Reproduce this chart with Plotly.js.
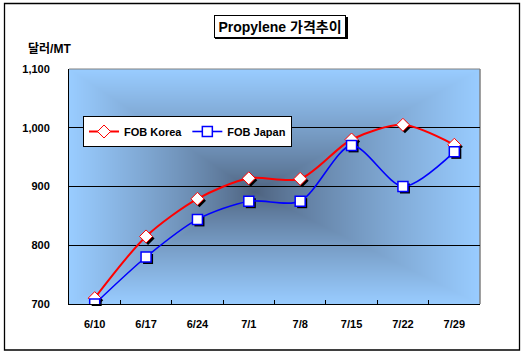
<!DOCTYPE html>
<html>
<head>
<meta charset="utf-8">
<script src="https://cdn.plot.ly/plotly-3.0.1.min.js"></script>
<style>
html,body{margin:0;padding:0;background:#fff;}
#chart{width:528px;height:354px;}
</style>
</head>
<body>
<div id="chart"></div>
<script>
// ---- data ----
var categories = ["6/10","6/17","6/24","7/1","7/8","7/15","7/22","7/29"];
var korea = [710, 815, 879, 914, 913, 980, 1005, 971];
var japan = [700, 780, 844, 875, 875, 970, 900, 959];
var yTickVals = [700, 800, 900, 1000, 1100];
var yTickText = ["700", "800", "900", "1,000", "1,100"];
var seriesNames = ["FOB Korea", "FOB Japan"];
var chartTitle = "Propylene 가격추이";
var yUnit = "달러/MT";

// ---- geometry helpers (pixels -> paper) ----
var L = 69, R = 46, T = 69, B = 48;
var W = 528 - L - R, H = 354 - T - B; // 413 x 237
function px(x){ return (x - L) / W; }
function py(y){ return (354 - B - y) / H; }
var dx = 2 / W, dy = 2 / H;

// ---- background gradient (rectangular, from center) ----
function gradientURL(){
  var cw = 411, ch = 235;
  var c = document.createElement('canvas');
  c.width = cw; c.height = ch;
  var ctx = c.getContext('2d');
  var img = ctx.createImageData(cw, ch);
  var edge = [153, 204, 255], mid = [76, 96, 124];
  var cx = cw * 0.45, cy = ch * 0.52;
  for (var j = 0; j < ch; j++) {
    for (var i = 0; i < cw; i++) {
      var tx = Math.abs(i - cx) / (i < cx ? cx : cw - cx);
      var ty = Math.abs(j - cy) / (j < cy ? cy : ch - cy);
      var t = Math.min(1, Math.max(tx, ty));
      t = Math.pow(t, 0.8);
      var k = (j * cw + i) * 4;
      for (var q = 0; q < 3; q++) img.data[k + q] = Math.round(mid[q] + (edge[q] - mid[q]) * t);
      img.data[k + 3] = 255;
    }
  }
  ctx.putImageData(img, 0, 0);
  return c.toDataURL('image/png');
}

var fam = "Liberation Sans, Arial, Noto Sans CJK KR, sans-serif";
var bold = {family: fam, size: 11, color: "#000", weight: "bold"};

var traces = [
  // shadows (subplot xy, shifted)
  {x: categories, y: korea, type: "scatter", mode: "markers", xaxis: "x", yaxis: "y", showlegend: false, hoverinfo: "skip",
   marker: {symbol: "diamond", size: 10, color: "#000", line: {width: 0}}},
  {x: categories, y: japan, type: "scatter", mode: "markers", xaxis: "x", yaxis: "y", showlegend: false, hoverinfo: "skip",
   marker: {symbol: "square", size: 10, color: "#000", line: {width: 0}}},
  // main series
  {x: categories, y: korea, name: seriesNames[0], type: "scatter", mode: "lines+markers", xaxis: "x2", yaxis: "y2",
   line: {color: "#FF0000", width: 2, shape: "spline", smoothing: 0.8},
   marker: {symbol: "diamond", size: 10, color: "#FFFFFF", line: {color: "#FF0000", width: 1}}},
  {x: categories, y: japan, name: seriesNames[1], type: "scatter", mode: "lines+markers", xaxis: "x2", yaxis: "y2",
   line: {color: "#0000FF", width: 1.6, shape: "spline", smoothing: 0.8},
   marker: {symbol: "square", size: 10, color: "#FFFFFF", line: {color: "#0000FF", width: 1.5}}}
];

var hiddenAxis = {showgrid: false, showline: false, zeroline: false, showticklabels: false, ticks: ""};

var layout = {
  width: 528, height: 354,
  margin: {l: L, r: R, t: T, b: B, pad: 0},
  paper_bgcolor: "#FFFFFF",
  plot_bgcolor: "rgba(0,0,0,0)",
  showlegend: true,
  xaxis: Object.assign({type: "category", categoryorder: "array", categoryarray: categories, range: [-0.5, 7.5],
                        domain: [dx, 1], anchor: "y"}, hiddenAxis),
  yaxis: Object.assign({range: [700, 1100], domain: [0, 1 - dy], anchor: "x"}, hiddenAxis),
  xaxis2: {type: "category", categoryorder: "array", categoryarray: categories, range: [-0.5, 7.5],
           domain: [0, 1 - dx], anchor: "y2",
           showgrid: false, zeroline: false, showline: true, linecolor: "#000", linewidth: 1,
           ticks: "inside", ticklen: 4, tickcolor: "#000", tickson: "boundaries",
           tickfont: bold, ticklabelstandoff: 10},
  yaxis2: {range: [700, 1100], domain: [dy, 1], anchor: "x2",
           tickvals: yTickVals, ticktext: yTickText,
           showgrid: true, gridcolor: "#000", gridwidth: 1, zeroline: false,
           showline: true, linecolor: "#000", linewidth: 1, ticks: "",
           tickfont: bold, ticklabelstandoff: 16},
  legend: {x: px(83), y: py(116), xanchor: "left", yanchor: "top", orientation: "h",
           bgcolor: "#FFFFFF", bordercolor: "#000", borderwidth: 1,
           font: {family: fam, size: 11, color: "#000", weight: "bold"},
           itemwidth: 30, tracegroupgap: 0},
  images: [{source: gradientURL(), xref: "paper", yref: "paper", x: 0, y: 1, sizex: 1 - dx, sizey: 1 - dy,
            xanchor: "left", yanchor: "top", sizing: "stretch", layer: "below"}],
  shapes: [
    // plot border (gray top/right)
    {type: "line", xref: "paper", yref: "paper", x0: 0, x1: 1 - dx, y0: 1, y1: 1, line: {color: "#808080", width: 1}, layer: "below"},
    {type: "line", xref: "paper", yref: "paper", x0: 1 - dx, x1: 1 - dx, y0: dy, y1: 1, line: {color: "#808080", width: 1.5}, layer: "below"},
    // outer chart border
    {type: "rect", xref: "paper", yref: "paper", x0: px(4.5), x1: px(519.5), y0: py(350), y1: py(3.5),
     line: {color: "#000", width: 1.3}, fillcolor: "rgba(0,0,0,0)"},
    // title box shadow
    {type: "rect", xref: "paper", yref: "paper", x0: px(215), x1: px(348), y0: py(39), y1: py(17),
     line: {width: 0}, fillcolor: "#000"}
  ],
  annotations: [
    {text: chartTitle, xref: "paper", yref: "paper", x: px(279.5), y: py(26), xanchor: "center", yanchor: "middle",
     showarrow: false, bgcolor: "#FFFFFF", bordercolor: "#000", borderwidth: 1, borderpad: 2,
     width: 126, height: 17, align: "center",
     font: {family: fam, size: 14, color: "#000", weight: "bold"}},
    {text: yUnit, xref: "paper", yref: "paper", x: px(26), y: py(49), xanchor: "left", yanchor: "middle",
     showarrow: false, font: {family: fam, size: 12, color: "#000", weight: "bold"}}
  ]
};

Plotly.newPlot("chart", traces, layout, {staticPlot: true, displayModeBar: false});
</script>
</body>
</html>
